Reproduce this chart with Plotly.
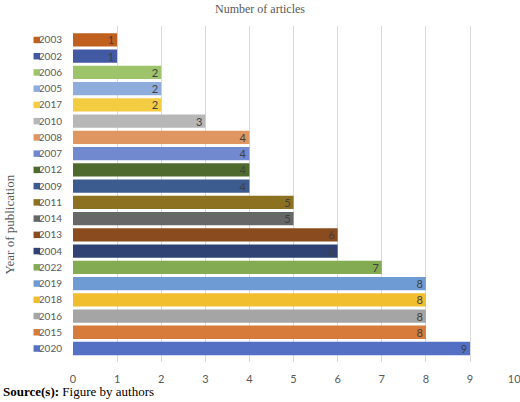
import plotly.graph_objects as go

# categories top to bottom, with counts and bar colours
years = ["2003", "2002", "2006", "2005", "2017", "2010", "2008", "2007", "2012", "2009",
         "2011", "2014", "2013", "2004", "2022", "2019", "2018", "2016", "2015", "2020"]
articles = [1, 1, 2, 2, 2, 3, 4, 4, 4, 4, 5, 5, 6, 6, 7, 8, 8, 8, 8, 9]
colors = ["#C0601F", "#4259A4", "#9DC36B", "#8EADDC", "#F3CC42", "#B7B7B7", "#E09660",
          "#7189CE", "#4E6A2E", "#3C5B8E", "#8C7121", "#676767", "#8A4B1E", "#2F4273",
          "#83AC52", "#6F9BD5", "#F0BE2E", "#A5A5A5", "#D77B3A", "#5470C4"]
x_ticks = list(range(0, 11))

W, H = 520, 402
L, R, T, B = 72.5, 5, 26, 40
plot_w = W - L - R

fig = go.Figure(
    go.Bar(
        x=articles,
        y=list(range(len(years))),
        orientation="h",
        width=0.82,
        marker=dict(color=colors, line=dict(width=0)),
        text=[str(v) for v in articles],
        textposition="inside",
        insidetextanchor="end",
        textangle=0,
        constraintext="none",
        textfont=dict(family="Lato", size=11, color="#404040"),
        hoverinfo="x+y",
    )
)

# legend-style swatches next to the year labels
for i, c in enumerate(colors):
    fig.add_shape(
        type="rect", xref="paper", yref="y",
        x0=(33 - L) / plot_w, x1=(39.5 - L) / plot_w,
        y0=i - 0.2, y1=i + 0.2,
        fillcolor=c, line=dict(width=0),
    )

fig.update_layout(
    width=W,
    height=H,
    margin=dict(l=L, r=R, t=T, b=B),
    plot_bgcolor="white",
    paper_bgcolor="white",
    showlegend=False,
    title=dict(
        text="Number of articles",
        x=0.5, xref="container", xanchor="center",
        y=1 - 8.5 / H, yref="container", yanchor="middle",
        font=dict(family="Liberation Serif", size=12, color="#595959"),
    ),
    xaxis=dict(
        range=[0, 10.02],
        tickvals=x_ticks,
        showgrid=True,
        gridcolor="#D9D9D9",
        gridwidth=1,
        zeroline=False,
        showline=False,
        ticks="",
        ticklabelstandoff=9,
        ticklabeloverflow="allow",
        automargin=False,
        tickfont=dict(family="Lato", size=11, color="#595959"),
    ),
    yaxis=dict(
        range=[19.83, -0.86],
        tickvals=list(range(len(years))),
        ticktext=years,
        showgrid=False,
        zeroline=False,
        ticks="",
        ticklabelstandoff=10,
        automargin=False,
        tickfont=dict(family="Lato", size=10, color="#595959"),
    ),
    annotations=[
        dict(
            text="Year of publication",
            textangle=-90,
            xref="paper", yref="paper",
            x=(8 - L) / plot_w, y=(H - B - 225) / (H - T - B),
            xanchor="center", yanchor="middle",
            showarrow=False,
            font=dict(family="Liberation Serif", size=13, color="#595959"),
        ),
        dict(
            text="<b>Source(s):</b> Figure by authors",
            xref="paper", yref="paper",
            x=-L / plot_w, y=(H - B - 391) / (H - T - B),
            xanchor="left", yanchor="middle",
            showarrow=False,
            font=dict(family="Liberation Serif", size=13, color="#000000"),
        ),
    ],
)

# the page body has a default 8px margin; drop it so the figure fills the window
fig.write_html(
    "out.html",
    config={"displayModeBar": False},
    post_script="document.body.style.margin='0';",
)
